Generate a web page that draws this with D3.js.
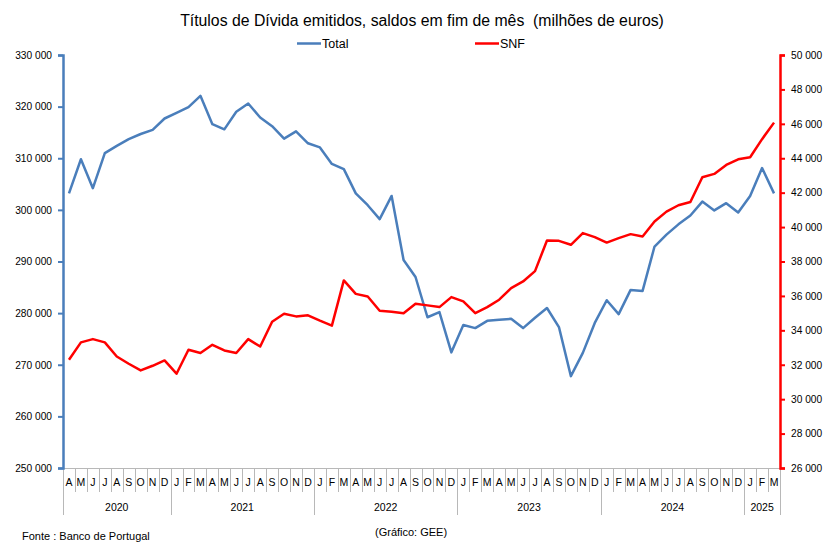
<!DOCTYPE html>
<html>
<head>
<meta charset="utf-8">
<script src="https://cdn.jsdelivr.net/npm/d3@7"></script>
<style>
  body { margin: 0; background: #fff; }
  text { font-family: "Liberation Sans", Arial, sans-serif; fill: #000; }
</style>
</head>
<body>
<svg id="chart" width="839" height="551"></svg>
<script>
// months Apr 2020 .. Mar 2025
const monthLabels = ["A","M","J","J","A","S","O","N","D",
  "J","F","M","A","M","J","J","A","S","O","N","D",
  "J","F","M","A","M","J","J","A","S","O","N","D",
  "J","F","M","A","M","J","J","A","S","O","N","D",
  "J","F","M","A","M","J","J","A","S","O","N","D",
  "J","F","M"];
const years = ["2020","2021","2022","2023","2024","2025"];
const yearMonths = [9, 12, 12, 12, 12, 3];

const totalValues = [303200, 309800, 304200, 311000, 312400, 313700, 314700, 315500, 317700,
  318800, 319900, 322100, 316600, 315600, 319000, 320600, 317900, 316200, 313800, 315200, 312900,
  312100, 308900, 307900, 303200, 300900, 298200, 302700, 290300, 287000, 279200, 280200, 272400,
  277700, 277100, 278500, 278700, 278900, 277100, 279100, 281000, 277300, 267800, 272300, 278100,
  282500, 279800, 284500, 284300, 292900, 295200, 297200, 298900, 301600, 299900, 301300, 299500,
  302700, 308100, 303200];

const snfValues = [32290, 33300, 33490, 33300, 32480, 32060, 31670, 31940, 32250,
  31480, 32870, 32680, 33160, 32830, 32680, 33490, 33060, 34500, 34960, 34810, 34870,
  34560, 34270, 36900, 36120, 35970, 35140, 35080, 34990, 35540, 35450, 35350, 35930,
  35680, 35000, 35350, 35780, 36450, 36840, 37440, 39220, 39200, 38970, 39650, 39420,
  39100, 39360, 39590, 39450, 40320, 40900, 41270, 41460, 42900, 43090, 43610, 43940,
  44060, 45110, 46070];

const leftTicks = d3.range(250000, 330001, 10000);
const rightTicks = d3.range(26000, 50001, 2000);

const svg = d3.select("#chart");
const margin = {left: 63, right: 780, top: 55, bottom: 468};
const blue = "#4a7ebb";
const red = "#ff0000";
const grey = "#b8b8b8";

const x = d3.scaleBand()
  .domain(d3.range(monthLabels.length))
  .range([margin.left, margin.right])
  .paddingInner(0).paddingOuter(0);

const yLeft = d3.scaleLinear().domain([250000, 330000]).range([margin.bottom, margin.top]);
const yRight = d3.scaleLinear().domain([26000, 50000]).range([margin.bottom, margin.top]);

const fmt = d => d3.format(",")(d).replace(/,/g, " ");

// title
svg.append("text")
  .attr("x", 422).attr("y", 26)
  .attr("text-anchor", "middle")
  .style("font-size", "15.8px")
  .style("white-space", "pre")
  .text("Títulos de Dívida emitidos, saldos em fim de mês  (milhões de euros)");

// legend
const legend = [{name: "Total", color: blue, x: 297}, {name: "SNF", color: red, x: 475}];
legend.forEach(l => {
  svg.append("line")
    .attr("x1", l.x).attr("x2", l.x + 24)
    .attr("y1", 43.5).attr("y2", 43.5)
    .attr("stroke", l.color).attr("stroke-width", 2.5);
  svg.append("text")
    .attr("x", l.x + 25).attr("y", 48)
    .style("font-size", "12.5px")
    .text(l.name);
});

// x axis: baseline, month separators, year separators
svg.append("line")
  .attr("x1", margin.left).attr("x2", margin.right)
  .attr("y1", margin.bottom + 0.5).attr("y2", margin.bottom + 0.5)
  .attr("stroke", grey);

svg.append("g").selectAll("line")
  .data(d3.range(monthLabels.length + 1))
  .join("line")
  .attr("x1", i => Math.round(margin.left + i * x.bandwidth()) + 0.5)
  .attr("x2", i => Math.round(margin.left + i * x.bandwidth()) + 0.5)
  .attr("y1", margin.bottom)
  .attr("y2", margin.bottom + 24)
  .attr("stroke", grey);

svg.append("g").selectAll("text")
  .data(monthLabels)
  .join("text")
  .attr("x", (d, i) => x(i) + x.bandwidth() / 2)
  .attr("y", margin.bottom + 18)
  .attr("text-anchor", "middle")
  .style("font-size", "10.5px")
  .text(d => d);

let start = 0;
const yearPos = [0];
yearMonths.forEach(n => { start += n; yearPos.push(start); });

svg.append("g").selectAll("line")
  .data(yearPos)
  .join("line")
  .attr("x1", i => Math.round(margin.left + i * x.bandwidth()) + 0.5)
  .attr("x2", i => Math.round(margin.left + i * x.bandwidth()) + 0.5)
  .attr("y1", margin.bottom)
  .attr("y2", margin.bottom + 47)
  .attr("stroke", grey);

svg.append("g").selectAll("text")
  .data(years)
  .join("text")
  .attr("x", (d, i) => margin.left + (yearPos[i] + yearPos[i + 1]) / 2 * x.bandwidth())
  .attr("y", margin.bottom + 43)
  .attr("text-anchor", "middle")
  .style("font-size", "10.5px")
  .text(d => d);

// left axis
const leftAxis = svg.append("g")
  .attr("transform", "translate(" + margin.left + ",0)")
  .call(d3.axisLeft(yLeft).tickValues(leftTicks).tickFormat(fmt).tickSize(5).tickPadding(6));
leftAxis.select(".domain").attr("stroke", blue).attr("stroke-width", 2.5);
leftAxis.selectAll(".tick line").attr("stroke", blue).attr("stroke-width", 2);
leftAxis.selectAll(".tick text")
  .style("font-family", "'Liberation Sans', Arial, sans-serif")
  .style("font-size", "10.2px").attr("fill", "#000");

// right axis
const rightAxis = svg.append("g")
  .attr("transform", "translate(" + margin.right + ",0)")
  .call(d3.axisRight(yRight).tickValues(rightTicks).tickFormat(fmt).tickSize(5).tickPadding(6));
rightAxis.select(".domain").attr("stroke", red).attr("stroke-width", 2.5);
rightAxis.selectAll(".tick line").attr("stroke", red).attr("stroke-width", 2);
rightAxis.selectAll(".tick text")
  .style("font-family", "'Liberation Sans', Arial, sans-serif")
  .style("font-size", "10.2px").attr("fill", "#000");

// lines
const cx = i => x(i) + x.bandwidth() / 2;

svg.append("path")
  .datum(totalValues)
  .attr("fill", "none")
  .attr("stroke", blue)
  .attr("stroke-width", 2.5)
  .attr("stroke-linejoin", "round")
  .attr("d", d3.line().x((d, i) => cx(i)).y(d => yLeft(d)));

svg.append("path")
  .datum(snfValues)
  .attr("fill", "none")
  .attr("stroke", red)
  .attr("stroke-width", 2.5)
  .attr("stroke-linejoin", "round")
  .attr("d", d3.line().x((d, i) => cx(i)).y(d => yRight(d)));

// footnotes
svg.append("text")
  .attr("x", 22).attr("y", 540)
  .style("font-size", "11px")
  .text("Fonte : Banco de Portugal");

svg.append("text")
  .attr("x", 375).attr("y", 536)
  .style("font-size", "11px")
  .text("(Gráfico: GEE)");
</script>
</body>
</html>
